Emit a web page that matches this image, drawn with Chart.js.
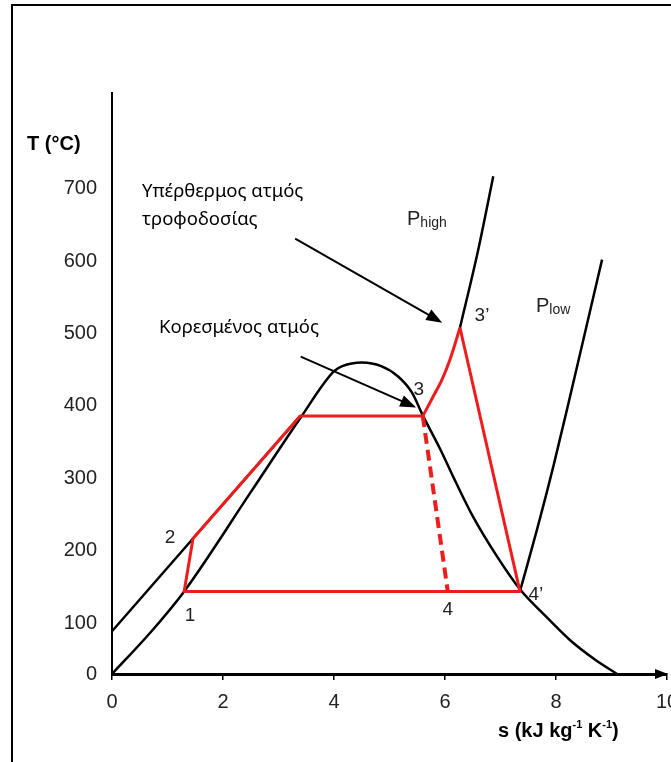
<!DOCTYPE html>
<html>
<head>
<meta charset="utf-8">
<script src="https://cdn.jsdelivr.net/npm/chart.js@4/dist/chart.umd.min.js"></script>
<style>
  html, body { margin: 0; padding: 0; background: #fff; overflow: hidden; }
  #wrap { position: relative; width: 671px; height: 762px; overflow: hidden; }
  #frame { position: absolute; left: 11px; top: 4px; width: 720px; height: 800px; border: 2px solid #000; box-sizing: border-box; }
  canvas { position: absolute; left: 0; top: 0; }
</style>
</head>
<body>
<div id="wrap">
  <div id="frame"></div>
  <canvas id="chart" width="700" height="762"></canvas>
</div>
<script>
// T-s diagram, values (s in kJ/kg/K, T in °C)
var yTickValues = [0, 100, 200, 300, 400, 500, 600, 700];
var yTickLabels = ["0", "100", "200", "300", "400", "500", "600", "700"];
var xTickLabels = ["0", "2", "4", "6", "8", "10"];

// saturation dome
var domeS = [0, 0.7, 1.3, 2.5, 3.4, 4.0, 4.15, 4.5, 4.85, 5.15, 5.4, 5.6, 5.91, 6.2, 6.5, 6.94, 7.35, 7.8, 8.25, 8.7, 9.1];
var domeT = [30, 88, 144, 281, 384, 448, 455, 460, 455, 441, 419, 387, 341, 294, 248, 192, 147, 111, 77, 50, 30];

// P_high isobar, liquid part and superheated part
var pHighLiqS = [0, 1.46, 3.39];
var pHighLiqT = [89, 217, 386];
var pHighVapS = [6.27, 6.6, 6.87];
var pHighVapT = [508, 616, 717];

// P_low isobar
var pLowS = [7.35, 7.66, 7.96, 8.25, 8.54, 8.83];
var pLowT = [144, 230, 319, 412, 507, 602];

// Rankine cycle: straight legs 3' -> 4' -> 1 -> 2 -> boiling -> 3
var cycleS = [6.27, 7.35, 1.30, 1.46, 3.39, 5.60];
var cycleT = [508, 144, 144, 217, 386, 386];
// superheating 3 -> 3'
var superS = [5.60, 5.78, 5.95, 6.09, 6.27];
var superT = [386, 412, 437, 464, 508];

// 3 -> 4 expansion (dashed)
var expS = [5.60, 6.05];
var expT = [386, 144];

// state points
var pointNames = ["1", "2", "3", "3’", "4", "4’"];
var pointS = [1.30, 1.46, 5.60, 6.27, 6.05, 7.35];
var pointT = [144, 217, 386, 508, 144, 144];

// annotation arrows
var arrowFromS = [3.30, 3.40];
var arrowFromT = [631, 468];
var arrowToS = [5.95, 5.48];
var arrowToT = [515, 398];

const RED = "#ee1c1c";
const SANS = "'Liberation Sans', Arial, sans-serif";
const GREEK = "'Noto Sans', 'Open Sans', sans-serif";

// pixel offsets of the state point labels
var labelOffsets = [[6, 24], [-23, -1], [-4, -26], [22, -12], [0, 18], [16, 3]];

function toPoints(sArr, tArr) {
  return sArr.map((s, i) => ({ x: s, y: tArr[i] }));
}

function curve(sArr, tArr, color, width, smooth) {
  return {
    data: toPoints(sArr, tArr),
    borderColor: color,
    borderWidth: width,
    borderJoinStyle: "round",
    pointRadius: 0,
    fill: false,
    clip: false,
    cubicInterpolationMode: smooth ? "monotone" : "default",
    tension: 0,
  };
}

function drawArrowHead(ctx, x0, y0, x1, y1, len, half) {
  var a = Math.atan2(y1 - y0, x1 - x0);
  ctx.beginPath();
  ctx.moveTo(x1, y1);
  ctx.lineTo(x1 - len * Math.cos(a) + half * Math.sin(a), y1 - len * Math.sin(a) - half * Math.cos(a));
  ctx.lineTo(x1 - len * Math.cos(a) - half * Math.sin(a), y1 - len * Math.sin(a) + half * Math.cos(a));
  ctx.closePath();
  ctx.fill();
}

// text with sub/superscript pieces: [text, font, dy]
function drawPieces(ctx, x, y, pieces) {
  pieces.forEach((p) => {
    ctx.font = p[1];
    ctx.fillText(p[0], x, y + p[2]);
    x += ctx.measureText(p[0]).width;
  });
}

var extras = {
  id: "extras",
  afterDraw(chart) {
    var ctx = chart.ctx;
    var xs = chart.scales.x;
    var ys = chart.scales.y;
    var area = chart.chartArea;
    ctx.save();
    ctx.fillStyle = "#000";
    ctx.strokeStyle = "#000";

    // arrow at the end of the s axis
    drawArrowHead(ctx, area.left, area.bottom, area.right + 1, area.bottom, 13, 5);

    // annotation arrows
    ctx.lineWidth = 2;
    for (let i = 0; i < arrowFromS.length; i++) {
      var x0 = xs.getPixelForValue(arrowFromS[i]);
      var y0 = ys.getPixelForValue(arrowFromT[i]);
      var x1 = xs.getPixelForValue(arrowToS[i]);
      var y1 = ys.getPixelForValue(arrowToT[i]);
      var a = Math.atan2(y1 - y0, x1 - x0);
      ctx.beginPath();
      ctx.moveTo(x0, y0);
      ctx.lineTo(x1 - 10 * Math.cos(a), y1 - 10 * Math.sin(a));
      ctx.stroke();
      drawArrowHead(ctx, x0, y0, x1, y1, 16, 6);
    }

    // state point labels
    ctx.textAlign = "center";
    ctx.textBaseline = "middle";
    ctx.font = "19px " + SANS;
    ctx.fillStyle = "#222";
    for (let i = 0; i < pointNames.length; i++) {
      ctx.fillText(
        pointNames[i],
        xs.getPixelForValue(pointS[i]) + labelOffsets[i][0],
        ys.getPixelForValue(pointT[i]) + labelOffsets[i][1]
      );
    }

    // axis titles
    ctx.fillStyle = "#000";
    ctx.textAlign = "left";
    ctx.textBaseline = "alphabetic";
    ctx.font = "bold 20px " + SANS;
    ctx.fillText("T (°C)", 27, 150);
    var b = "bold 20px " + SANS;
    var sup = "bold 11px " + SANS;
    drawPieces(ctx, 498, 737, [
      ["s (kJ kg", b, 0], ["-1", sup, -9], [" K", b, 0], ["-1", sup, -9], [")", b, 0],
    ]);

    // isobar names
    ctx.fillStyle = "#222";
    drawPieces(ctx, 407, 225, [["P", "20px " + SANS, 0], ["high", "14px " + SANS, 2]]);
    drawPieces(ctx, 536, 312, [["P", "20px " + SANS, 0], ["low", "14px " + SANS, 2]]);

    // greek notes
    ctx.fillStyle = "#000";
    ctx.font = "18.5px " + GREEK;
    ctx.fillText("Υπέρθερμος ατμός", 142, 197);
    ctx.fillText("τροφοδοσίας", 142, 225);
    ctx.fillText("Κορεσμένος ατμός", 159, 333);
    ctx.restore();
  },
};

new Chart(document.getElementById("chart"), {
  type: "line",
  data: {
    datasets: [
      curve(cycleS, cycleT, RED, 3, false),
      curve(superS, superT, RED, 3, true),
      Object.assign(curve(expS, expT, RED, 4, false), { borderDash: [11, 6] }),
      curve(domeS, domeT, "#000", 2.5, true),
      curve(pHighLiqS, pHighLiqT, "#000", 2.5, false),
      curve(pHighVapS, pHighVapT, "#000", 2.5, true),
      curve(pLowS, pLowT, "#000", 2.5, true),
    ],
  },
  options: {
    responsive: false,
    animation: false,
    layout: { padding: { left: 0, top: 93, right: 33, bottom: 0 } },
    plugins: { legend: { display: false }, tooltip: { enabled: false } },
    scales: {
      x: {
        type: "linear",
        min: 0,
        max: 10,
        afterFit: (s) => { s.height = 88; },
        ticks: {
          stepSize: 2,
          color: "#222",
          padding: 10,
          maxRotation: 0,
          font: { family: SANS, size: 20 },
          callback: (v, i) => xTickLabels[i],
        },
        grid: { display: true, drawOnChartArea: false, drawTicks: true, tickLength: 6, color: "#000", lineWidth: 1.5 },
        border: { display: true, color: "#000", width: 3 },
      },
      y: {
        type: "linear",
        min: 30,
        max: 832,
        afterFit: (s) => { s.width = 112; },
        afterBuildTicks: (s) => {
          s.ticks = yTickValues.map((v) => ({ value: Math.max(v, s.min) }));
        },
        ticks: {
          color: "#222",
          padding: 15,
          font: { family: SANS, size: 20 },
          callback: (v, i) => yTickLabels[i],
        },
        grid: { display: false, drawTicks: false },
        border: { display: true, color: "#000", width: 2 },
      },
    },
  },
  plugins: [extras],
});
</script>
</body>
</html>
